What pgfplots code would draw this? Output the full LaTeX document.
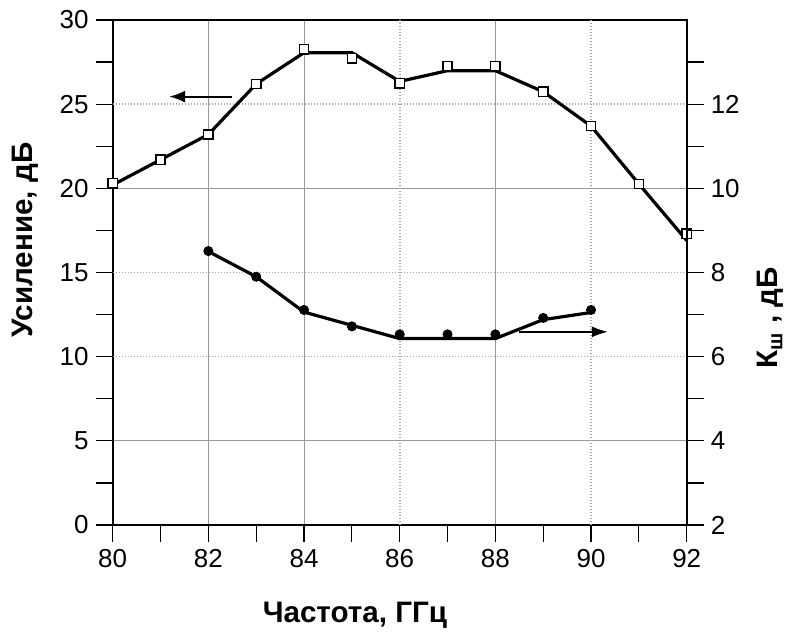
\documentclass[border=0pt]{standalone}
\usepackage{fontspec}
\setmainfont{Liberation Sans}
\usepackage{pgfplots}
\pgfplotsset{compat=1.18}
\usetikzlibrary{arrows.meta}

\begin{document}
\begin{tikzpicture}
\pgfplotsset{
  myaxis/.style={
    scale only axis, width=287pt, height=252.5pt,
    xmin=80, xmax=92,
    clip=false,
    tick align=outside,
    major tick length=8.5pt, minor tick length=8.5pt,
    every tick/.style={black, line width=0.6pt},
    axis line style={black, line width=0.8pt},
    tick label style={font=\fontsize{13}{15}\selectfont, /pgf/number format/assume math mode=true},
    label style={font=\fontsize{14.8}{17}\selectfont\bfseries},
  }
}
\begin{axis}[myaxis,
  ymin=0, ymax=30,
  xtick={80,82,84,88,92},
  extra x ticks={86,90},
  extra x tick style={grid=major, major grid style={gray!70, densely dotted, line width=0.8pt}, tick align=outside, xtick pos=bottom},
  minor xtick={81,83,...,91},
  ytick={0,5,20,30},
  extra y ticks={10,15,25},
  extra y tick style={grid=major, major grid style={gray!70, densely dotted, line width=0.8pt}, tick align=outside, ytick pos=left},
  minor ytick={2.5,7.5,...,27.5},
  xmajorgrids, ymajorgrids,
  major grid style={gray!80, line width=0.5pt},
  xtick pos=bottom, ytick pos=left,
  xlabel={Частота, ГГц},
  ylabel={Усиление, дБ},
  xlabel style={at={(axis description cs:0.422,-0.194)}, anchor=base},
  ylabel style={at={(axis description cs:-0.1389,0.564)}, anchor=base},
]
\coordinate (SW) at (rel axis cs:0,0);
\coordinate (NE) at (rel axis cs:1,1);
% gain curve (drawn line)
\addplot[black, line width=1.6pt, line join=round] coordinates {
  (80,20.2) (81,21.7) (82,23.2) (83,26.2) (84,28.06) (85,28.06) (86,26.35)
  (87,26.99) (88,26.99) (89,25.74) (90,23.7) (91,20.26) (92,16.9)
};
% gain measured points
\addplot[only marks, mark=square*, mark size=2.3pt, mark options={fill=white, draw=black, line width=0.7pt}] coordinates {
  (80,20.3) (81,21.7) (82,23.2) (83,26.2) (84,28.26) (85,27.72) (86,26.24)
  (87,27.27) (88,27.27) (89,25.74) (90,23.7) (91,20.26) (92,17.3)
};
% arrow pointing to left axis
\addplot[black, line width=1.0pt, -{Latex[length=8pt,width=6pt]}] coordinates {(82.49,25.45) (81.18,25.45)};
\end{axis}

\begin{axis}[myaxis,
  ymin=2, ymax=14,
  axis x line=none,
  axis y line*=right,
  ytick={2,4,...,12},
  minor ytick={3,5,...,13},
  ylabel={К\textsubscript{ш} , дБ},
  ylabel style={at={(axis description cs:1.159,0.41)}, anchor=base},
]
% noise figure curve (drawn line)
\addplot[black, line width=1.6pt, line join=round] coordinates {
  (82,8.5) (83,7.9) (84,7.06) (86,6.43) (88,6.43) (89,6.88) (90,7.05)
};
% noise figure measured points
\addplot[only marks, mark=*, mark size=2.3pt, mark options={fill=black, draw=black}] coordinates {
  (82,8.51) (83,7.9) (84,7.11) (85,6.72) (86,6.53) (87,6.53) (88,6.53) (89,6.92) (90,7.11)
};
% arrow pointing to right axis
\addplot[black, line width=0.7pt, -{Latex[length=8pt,width=5.5pt]}] coordinates {(88.5,6.59) (90.35,6.59)};
\end{axis}
\pgfresetboundingbox
\path ([shift={(-56.35pt,-56.5pt)}]SW) rectangle ([shift={(51.65pt,10pt)}]NE);
\end{tikzpicture}
\end{document}
